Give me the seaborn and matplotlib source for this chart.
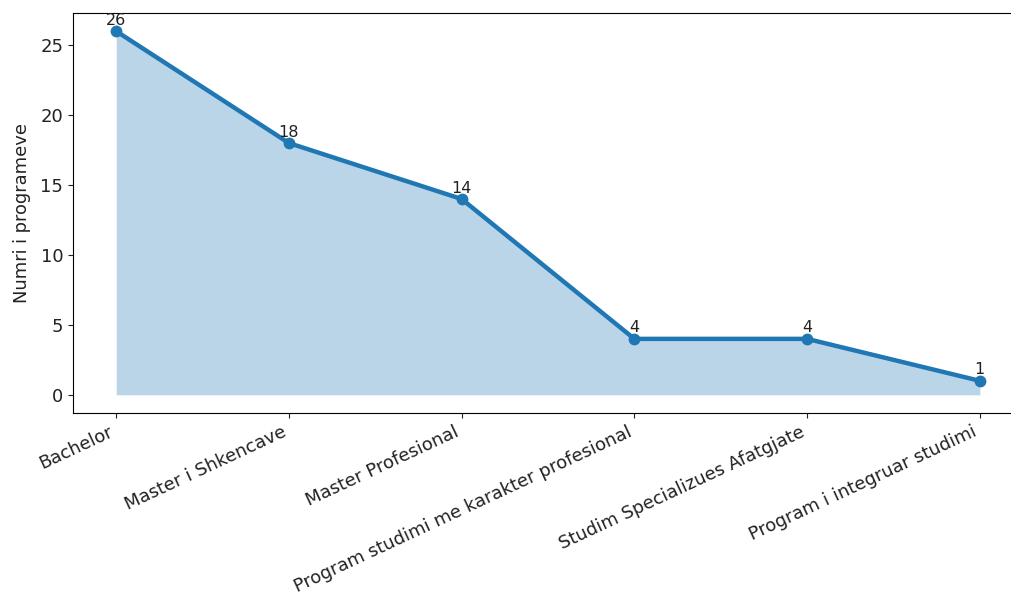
import matplotlib
matplotlib.use("Agg")
import matplotlib.pyplot as plt
import seaborn as sns
import pandas as pd

categories = ["Bachelor", "Master i Shkencave", "Master Profesional",
              "Program studimi me karakter profesional",
              "Studim Specializues Afatgjate", "Program i integruar studimi"]
values = [26, 18, 14, 4, 4, 1]

df = pd.DataFrame({"cat": categories, "val": values, "pos": range(len(categories))})

fig = plt.figure(figsize=(10.11, 5.99), dpi=100)
ax = fig.add_axes([73 / 1011, (599 - 413) / 599, 950 / 1011, 400 / 599])

sns.lineplot(data=df, x="pos", y="val", marker="o", linewidth=3.2,
             markersize=8.5, markeredgewidth=0, color="C0", ax=ax)
ax.fill_between(df["pos"], df["val"], color="C0", alpha=0.3, linewidth=0)

for p, v in zip(df["pos"], df["val"]):
    ax.annotate(str(v), (p, v), xytext=(0, 2.5), textcoords="offset points",
                ha="center", va="bottom", fontsize=11.5, color="#222222")

ax.set_xticks(df["pos"])
ax.set_xticklabels(categories, rotation=25, ha="right", fontsize=13)
ax.tick_params(axis="y", labelsize=13)
ax.tick_params(axis="both", colors="#222222", labelcolor="#222222")
ax.set_xlabel("")
ax.set_ylabel("Numri i programeve", fontsize=12.9, color="#222222", labelpad=7)

fig.savefig("out.png", dpi=100)
